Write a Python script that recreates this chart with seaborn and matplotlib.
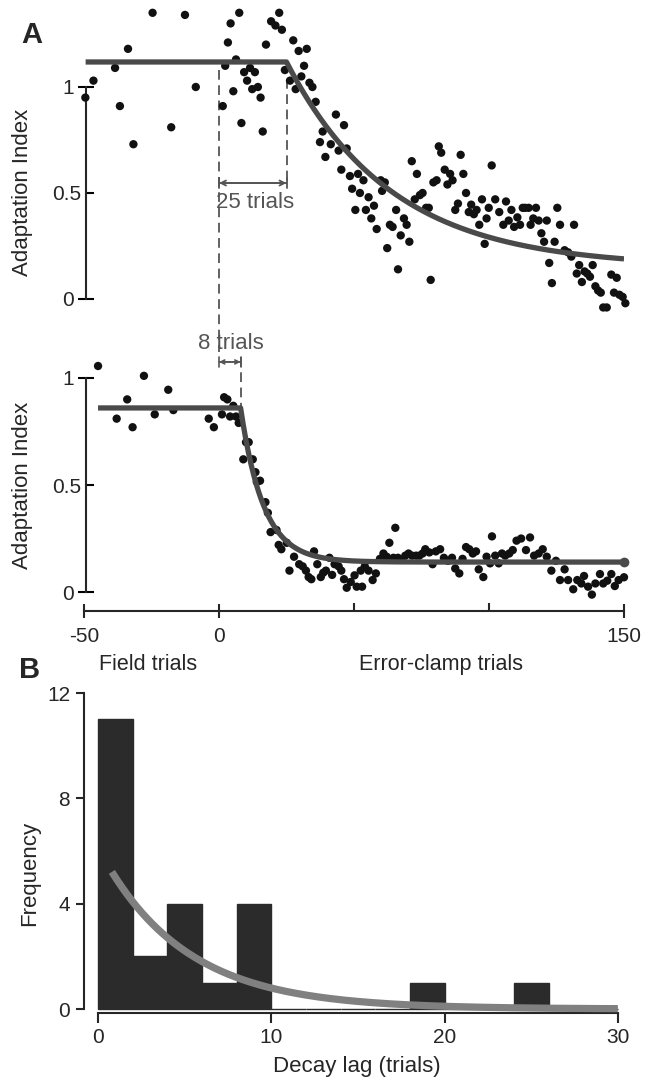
import numpy as np
import pandas as pd
import matplotlib
matplotlib.use("Agg")
import matplotlib.pyplot as plt
import seaborn as sns
from matplotlib.transforms import blended_transform_factory

sns.set_style("ticks")
plt.rcParams["font.family"] = ["Liberation Sans", "DejaVu Sans"]
plt.rcParams["lines.scale_dashes"] = False

# ---------------- data: panel A, top subject ----------------
top_trial = [-49.5, -46.5, -38.5, -36.7, -33.7, -31.7, -24.6, -17.7, -12.6, -8.6,
             1.4, 2.3, 3.3, 4.3, 5.3, 6.3, 7.5, 8.3, 9.3, 10.4, 11.5, 12.3, 13.3, 14.4, 15.4,
             16.2, 17.4, 19.3, 20.9, 22.3, 23.3, 24.4, 26.3, 27.5, 28.4, 29.5, 30.5, 31.5,
             32.5, 33.5, 34.6, 35.8, 37.4, 38.4, 39.4, 41.4, 43.3, 44.3, 45.3, 46.3, 47.3,
             48.5, 49.3, 50.5, 51.5, 52.2, 53.5, 54.4, 55.4, 56.4, 57.4, 58.4, 59.9, 60.4,
             61.4, 62.3, 63.3, 64.3, 65.6, 66.3, 67.3, 68.5, 69.5, 70.5, 71.4, 72.5, 73.3,
             74.4, 75.4, 76.7, 77.7, 78.4, 79.4, 80.6, 81.4, 82.3, 83.6, 84.6, 85.6, 86.5,
             87.5, 88.5, 89.5, 90.5, 91.5, 92.5, 93.4, 94.4, 95.4, 96.4, 97.4, 98.4, 99.1,
             99.9, 101.0, 102.3, 103.8, 105.3, 106.3, 107.3, 108.3, 109.3, 110.5, 111.5,
             112.5, 113.4, 114.7, 115.4, 116.4, 117.4, 118.4, 119.4, 120.4, 121.4, 122.3,
             123.3, 124.3, 125.3, 126.3, 128.0, 129.3, 130.5, 131.5, 132.5, 133.4, 134.4,
             135.4, 136.4, 137.4, 138.4, 139.4, 140.4, 141.4, 142.3, 143.6, 145.3, 146.3,
             147.3, 148.3, 149.5, 150.5]
top_index = [0.95, 1.03, 1.09, 0.91, 1.18, 0.73, 1.35, 0.81, 1.34, 1.00,
             0.91, 1.10, 1.21, 1.30, 0.98, 1.13, 1.35, 0.83, 1.07, 1.03, 1.09, 0.99, 1.07, 1.00, 0.95,
             0.79, 1.20, 1.31, 1.29, 1.35, 1.27, 1.08, 1.03, 1.22, 0.99, 1.17, 1.05, 1.10,
             1.18, 1.02, 1.00, 0.93, 0.74, 0.79, 0.67, 0.73, 0.87, 0.70, 0.61, 0.82, 0.71,
             0.58, 0.52, 0.42, 0.59, 0.50, 0.56, 0.42, 0.48, 0.38, 0.44, 0.33, 0.56, 0.51,
             0.55, 0.24, 0.35, 0.34, 0.42, 0.14, 0.30, 0.38, 0.35, 0.27, 0.65, 0.47, 0.59,
             0.49, 0.50, 0.43, 0.43, 0.09, 0.55, 0.56, 0.72, 0.69, 0.61, 0.54, 0.59, 0.56,
             0.42, 0.45, 0.68, 0.59, 0.50, 0.41, 0.445, 0.40, 0.42, 0.35, 0.47, 0.26, 0.38,
             0.43, 0.63, 0.47, 0.41, 0.35, 0.46, 0.37, 0.42, 0.34, 0.385, 0.35,
             0.43, 0.43, 0.43, 0.35, 0.38, 0.43, 0.37, 0.31, 0.27, 0.37, 0.17,
             0.075, 0.27, 0.43, 0.35, 0.23, 0.22, 0.20, 0.35, 0.12, 0.16, 0.08,
             0.13, 0.12, 0.105, 0.16, 0.06, 0.04, 0.03, -0.04, -0.04, 0.115, 0.03,
             0.10, 0.02, 0.01, -0.02]

# fitted model for the top subject (plateau, lag, exponential decay)
top_plateau, top_lag, top_asym, top_tau = 1.118, 25, 0.15, 39.0
top_fit_start = -49.4

# ---------------- data: panel A, bottom subject ----------------
bot_trial = [-44.8, -37.9, -34.0, -32.0, -27.8, -23.8, -18.8, -16.9, -3.8, -1.9,
             1.1, 1.9, 3.1, 4.1, 5.3, 6.3, 7.3, 9.0, 10.0, 11.0, 12.5, 13.5, 14.0, 15.2,
             17.2, 18.1, 19.1, 21.3, 22.1, 23.1, 25.1, 26.1, 27.8, 29.7, 31.0, 32.2, 33.2,
             34.2, 35.2, 36.4, 37.7, 38.6, 39.6, 40.9, 41.9, 42.8, 44.3, 45.3, 46.3, 47.3,
             48.8, 50.2, 51.0, 52.5, 53.0, 54.0, 55.4, 56.9, 58.1, 59.6, 60.9, 62.1, 63.1,
             64.6, 65.3, 66.3, 67.8, 69.0, 70.2, 71.5, 73.0, 74.2, 75.4, 76.4, 77.9, 79.1,
             80.3, 81.9, 83.3, 84.8, 86.3, 87.5, 89.0, 90.2, 91.5, 92.7, 94.0, 95.2, 96.2,
             97.9, 99.1, 100.4, 101.1, 102.3, 103.6, 104.8, 106.0, 107.5, 108.8, 110.2,
             111.9, 113.7, 115.2, 116.7, 118.4, 119.9, 121.4, 123.1, 124.8, 126.3, 128.0,
             129.3, 131.2, 132.7, 134.2, 135.2, 136.7, 138.1, 139.4, 141.1, 142.3, 143.8,
             145.3, 146.6, 148.0, 150.0]
bot_index = [1.056, 0.81, 0.90, 0.77, 1.01, 0.83, 0.945, 0.85, 0.81, 0.77,
             0.83, 0.91, 0.90, 0.82, 0.87, 0.82, 0.79, 0.62, 0.70, 0.70, 0.62, 0.56, 0.515, 0.52,
             0.42, 0.37, 0.28, 0.29, 0.22, 0.20, 0.23, 0.10, 0.165, 0.13, 0.12, 0.10, 0.07,
             0.06, 0.19, 0.13, 0.07, 0.09, 0.10, 0.16, 0.08, 0.13, 0.12, 0.10, 0.06, 0.02,
             0.047, 0.078, 0.025, 0.10, 0.025, 0.12, 0.10, 0.056, 0.087, 0.155, 0.18, 0.165, 0.23,
             0.16, 0.30, 0.16, 0.15, 0.17, 0.18, 0.17, 0.17, 0.17, 0.18, 0.20, 0.185, 0.13,
             0.19, 0.20, 0.16, 0.146, 0.16, 0.11, 0.087, 0.155, 0.21, 0.20, 0.18, 0.19, 0.106,
             0.07, 0.165, 0.134, 0.26, 0.17, 0.134, 0.18, 0.17, 0.18, 0.196, 0.24,
             0.25, 0.196, 0.255, 0.17, 0.18, 0.20, 0.165, 0.10, 0.146, 0.056, 0.106,
             0.056, 0.013, 0.056, 0.04, 0.075, 0.025, -0.012, 0.04, 0.084, 0.04, 0.053,
             0.084, 0.028, 0.056, 0.069]

bot_plateau, bot_lag, bot_asym, bot_tau = 0.86, 8, 0.14, 8.5
bot_fit_start = -44.8

# ---------------- data: panel B ----------------
lag_bin_centers = [1, 3, 5, 7, 9, 19, 25]
lag_counts = [11, 2, 4, 1, 4, 1, 1]
lag_fit_amp, lag_fit_tau = 6.13, 4.9

x_ticks_a = [-50, 0, 150]
x_minor_a = [50, 100]

# ---------------- figure ----------------
W, H = 659, 1080
fig = plt.figure(figsize=(W / 100, H / 100), dpi=100)


def axes_px(l, r, t, b):
    return fig.add_axes([l / W, 1 - b / H, (r - l) / W, (b - t) / H])


ax1 = axes_px(84, 624, 2.2, 311.7)
ax2 = axes_px(84, 624, 352.3, 611.3)
ax3 = axes_px(84, 630, 677.2, 1012.7)

fit_color = "#4a4a4a"
ann_color = "#555555"
dot_color = "#111111"
dash = (0, (7, 4))


def fit_curve(start, plateau, lag, asym, tau):
    t_decay = np.linspace(lag, 150, 300)
    t = np.concatenate([[start], t_decay])
    y = np.concatenate([[plateau], asym + (plateau - asym) * np.exp(-(t_decay - lag) / tau)])
    return t, y


for ax, trial, idx, pars, ylim in [
    (ax1, top_trial, top_index, (top_fit_start, top_plateau, top_lag, top_asym, top_tau), (-0.06, 1.4)),
    (ax2, bot_trial, bot_index, (bot_fit_start, bot_plateau, bot_lag, bot_asym, bot_tau), (-0.09, 1.12)),
]:
    df = pd.DataFrame({"trial": trial, "index": idx})
    sns.scatterplot(data=df, x="trial", y="index", ax=ax, s=36, color=dot_color,
                    edgecolor="none", linewidth=0, clip_on=False, zorder=3)
    ft, fy = fit_curve(*pars)
    ax.plot(ft, fy, color=fit_color, lw=3.8, zorder=4, solid_capstyle="butt")
    ax.set_xlim(-50, 150)
    ax.set_ylim(*ylim)
    ax.set_xlabel("")
    ax.set_ylabel("Adaptation Index", fontsize=16)
    for s in ["top", "right"]:
        ax.spines[s].set_visible(False)
    ax.spines["left"].set_position(("data", -49.3))
    ax.spines["left"].set_bounds(0, 1)
    ax.spines["left"].set_linewidth(1.5)
    ax.spines["bottom"].set_linewidth(1.5)
    ax.set_yticks([0, 1], labels=["0", "1"])
    ax.set_yticks([0.5], labels=["0.5"], minor=True)
    ax.tick_params(axis="y", which="major", direction="inout", length=11, width=1.5,
                   labelsize=15, pad=3, color="black")
    ax.tick_params(axis="y", which="minor", direction="in", length=6, width=1.5,
                   labelsize=15, pad=3, color="black")

# bottom end marker of the lower fit
ax2.plot([150], [bot_asym + (bot_plateau - bot_asym) * np.exp(-(150 - bot_lag) / bot_tau)],
         "o", color=fit_color, ms=6, zorder=4, clip_on=False)

ax1.spines["bottom"].set_visible(False)
ax1.set_xticks([])
ax1.yaxis.set_label_coords(-0.094, 0.387)

ax2.spines["bottom"].set_bounds(-50, 150)
ax2.set_xticks(x_ticks_a, labels=[str(v) for v in x_ticks_a])
ax2.set_xticks(x_minor_a, minor=True)
ax2.tick_params(axis="x", which="major", direction="inout", length=10, width=1.5,
                labelsize=15, pad=6)
ax2.tick_params(axis="x", which="minor", direction="in", length=6, width=1.5)
ax2.yaxis.set_label_coords(-0.094, 0.488)

# annotations, top
ax1.plot([0, 0], [1.08, -1.472], ls=dash, color=ann_color, lw=1.3, clip_on=False, zorder=2)
ax1.plot([top_lag, top_lag], [1.04, 0.54], ls=dash, color=ann_color, lw=1.3, clip_on=False, zorder=2)
ax1.annotate("", xy=(0, 0.547), xytext=(top_lag, 0.547),
             arrowprops=dict(arrowstyle="<->", color=ann_color, lw=1.3, shrinkA=0, shrinkB=0,
                             mutation_scale=9))
ax1.annotate("", xy=(0, 0.547), xytext=(top_lag, 0.547),
             arrowprops=dict(arrowstyle="|-|, widthA=0.35, widthB=0.35", color=ann_color, lw=1.3,
                             shrinkA=0, shrinkB=0, mutation_scale=10))
ax1.text(13.3, 0.453, f"{top_lag} trials", ha="center", va="center", fontsize=16, color=ann_color)

# annotations, bottom
ax2.plot([bot_lag, bot_lag], [1.098, 0.86], ls=dash, color=ann_color, lw=1.3, clip_on=False, zorder=2)
ax2.annotate("", xy=(0, 1.075), xytext=(bot_lag, 1.075), annotation_clip=False,
             arrowprops=dict(arrowstyle="<->", color=ann_color, lw=1.2, shrinkA=0, shrinkB=0,
                             mutation_scale=7))
ax2.annotate("", xy=(0, 1.075), xytext=(bot_lag, 1.075), annotation_clip=False,
             arrowprops=dict(arrowstyle="|-|, widthA=0.35, widthB=0.35", color=ann_color, lw=1.2,
                             shrinkA=0, shrinkB=0, mutation_scale=10))
ax2.text(4.3, 1.159, f"{bot_lag} trials", ha="center", va="center", fontsize=16, color=ann_color,
         clip_on=False)

tr = blended_transform_factory(ax2.transData, ax2.transAxes)
ax2.text(-26.3, -0.2035, "Field trials", transform=tr, ha="center", va="center", fontsize=15.5)
ax2.text(82.2, -0.2035, "Error-clamp trials", transform=tr, ha="center", va="center", fontsize=15.5)

# ---------------- panel B ----------------
lag_df = pd.DataFrame({"lag": lag_bin_centers, "count": lag_counts})
sns.histplot(data=lag_df, x="lag", weights="count", binwidth=2, binrange=(0, 30), ax=ax3,
             color="#2b2b2b", alpha=1, edgecolor="#2b2b2b", stat="count")
xf = np.linspace(0.8, 30, 300)
ax3.plot(xf, lag_fit_amp * np.exp(-xf / lag_fit_tau), color="#808080", lw=5.2,
         solid_capstyle="butt", zorder=4)
ax3.set_xlim(-0.81, 30.7)
ax3.set_ylim(-0.14, 12.6)
for s in ["top", "right"]:
    ax3.spines[s].set_visible(False)
ax3.spines["left"].set_bounds(0, 12)
ax3.spines["bottom"].set_bounds(0, 30)
ax3.spines["left"].set_linewidth(1.5)
ax3.spines["bottom"].set_linewidth(1.5)
ax3.set_yticks([0, 4, 8, 12])
ax3.set_xticks([0, 10, 20, 30])
ax3.tick_params(axis="y", direction="out", length=6, width=1.5, labelsize=15, pad=4)
ax3.tick_params(axis="x", direction="out", length=7, width=1.5, labelsize=15, pad=4)
ax3.set_ylabel("Frequency", fontsize=16)
ax3.set_xlabel("Decay lag (trials)", fontsize=16)
ax3.yaxis.set_label_coords(-0.081, 0.416)
ax3.xaxis.set_label_coords(0.5, -0.129)

fig.text(21 / W, 1 - 43 / H, "A", fontsize=21, fontweight="bold", va="baseline")
fig.text(19 / W, 1 - 678 / H, "B", fontsize=21, fontweight="bold", va="baseline")

fig.savefig("out.png", dpi=100)
